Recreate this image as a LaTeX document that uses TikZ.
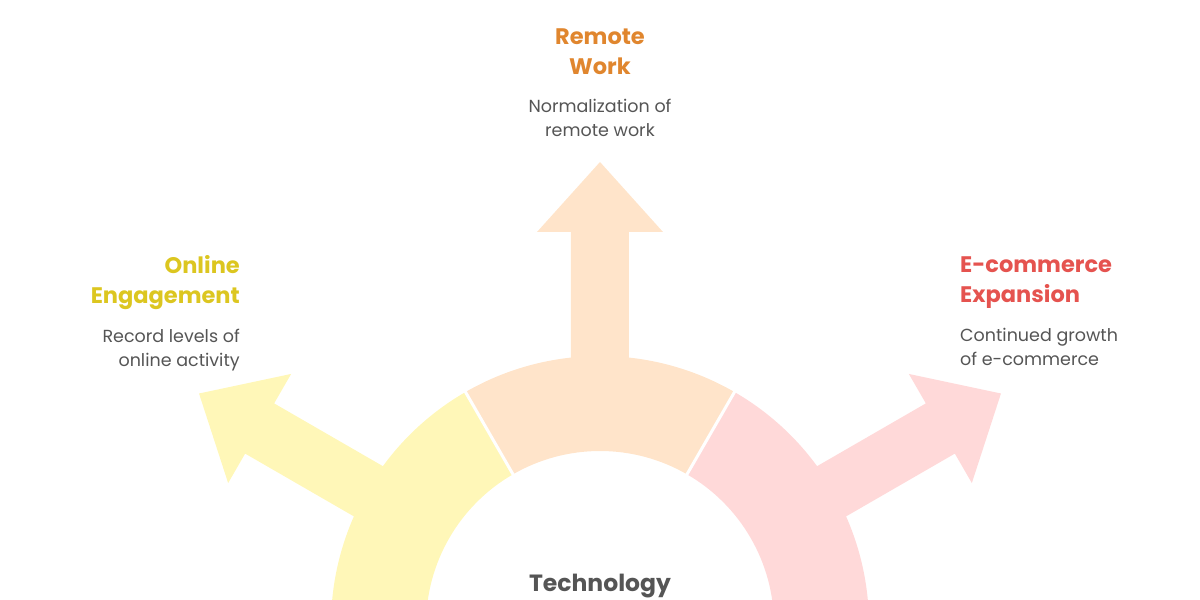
\documentclass[tikz,border=0pt]{standalone}
\usepackage{fontspec}
\setmainfont{Poppins}
\usetikzlibrary{positioning}
\definecolor{yellowfill}{HTML}{FFF7B8}
\definecolor{peachfill}{HTML}{FFE4CA}
\definecolor{pinkfill}{HTML}{FFD9D9}
\definecolor{yellowtext}{HTML}{DCC620}
\definecolor{orangetext}{HTML}{E0862E}
\definecolor{redtext}{HTML}{E5534F}
\definecolor{notegray}{HTML}{555555}
\tikzset{
	divider/.style={white, line width=3pt}, % thin white gaps between the sectors
	title/.style={font=\fontsize{22.5}{30}\selectfont\bfseries, inner sep=0pt},
	note/.style={font=\fontsize{17.5}{23.5}\selectfont, text=notegray, inner sep=0pt},
	node distance=19pt,
}
\begin{document}
\begin{tikzpicture}[x=1pt, y=1pt]
	\clip (-600,25) rectangle (600,625);
	% ring sectors and their arrows
	\foreach \a/\c in {150/yellowfill, 90/peachfill, 30/pinkfill} {
		\fill[\c] (\a+30:269pt) arc[start angle=\a+30, end angle=\a-30, radius=269pt]
			-- (\a-30:174pt) arc[start angle=\a-30, end angle=\a+30, radius=174pt] -- cycle;
		\fill[\c, rotate=\a] (220,-29) -- (393,-29) -- (393,-63) -- (463,0)
			-- (393,63) -- (393,29) -- (220,29) -- cycle;
	}
	\draw[divider] (120:165pt) -- (120:280pt);
	\draw[divider] (60:165pt) -- (60:280pt);
	% labels
	\node[title, text=orangetext, align=center] (remote) at (0,573) {Remote\\Work};
	\node[note, align=center, below=24pt of remote] (remotenote) {Normalization of\\remote work};
	\node[title, text=yellowtext, align=right, anchor=east] (online) at (-360,342) {Online\\Engagement};
	\node[note, align=right, below=of online.south east, anchor=north east] (onlinenote) {Record levels of\\online activity};
	\node[title, text=redtext, align=left, anchor=west] (ecommerce) at (360,342) {E-commerce\\Expansion};
	\node[note, align=left, below=of ecommerce.south west, anchor=north west] (ecommercenote) {Continued growth\\of e-commerce};
	\node[title, text=notegray, font=\fontsize{23.5}{26}\selectfont\bfseries] (technology) at (0,39) {Technology};
\end{tikzpicture}
\end{document}
